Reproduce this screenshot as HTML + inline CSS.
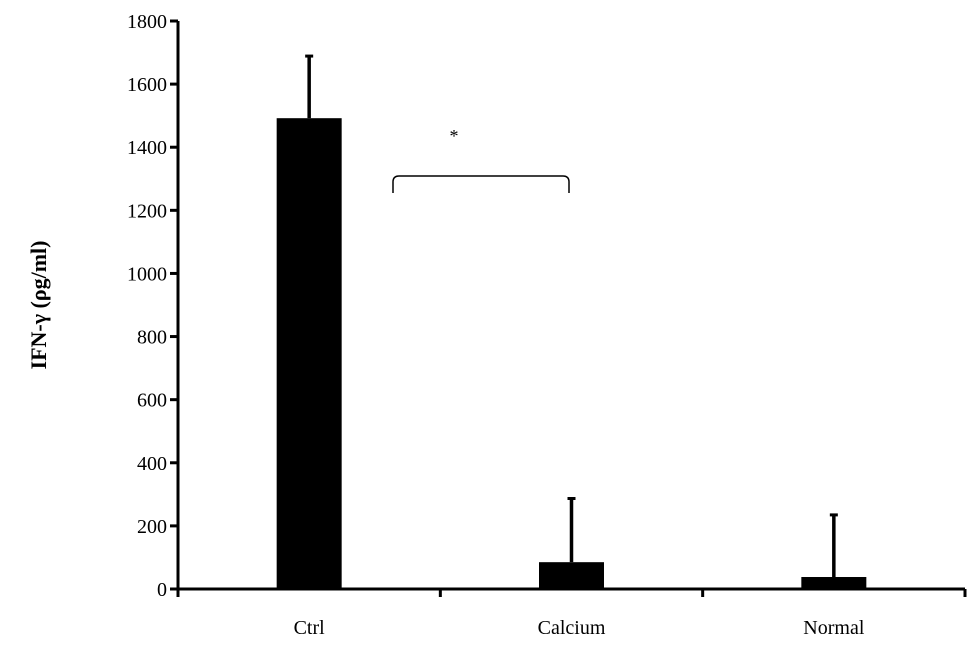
<!DOCTYPE html>
<html><head><meta charset="utf-8"><style>
html,body{margin:0;padding:0;background:#fff;}
svg{display:block;font-family:"Liberation Serif",serif;}
</style></head><body>
<svg id="chart" width="980" height="653" viewBox="0 0 980 653" xmlns="http://www.w3.org/2000/svg">
<g id="axes"></g>
<g id="bars"></g>
<path d="M393,193 L393,182 Q393,176 399,176 L563,176 Q569,176 569,182 L569,193" fill="none" stroke="#000" stroke-width="1.5"/>
<text x="454" y="142" font-size="18" text-anchor="middle">*</text>
<text transform="translate(46,305) rotate(-90)" font-size="22" font-weight="bold" text-anchor="middle">IFN-γ (ρg/ml)</text>
</svg>
<script>
const categories = ["Ctrl", "Calcium", "Normal"];
const values = [1492, 85, 38];
const errors = [200, 205, 200];
const yTicks = [0, 200, 400, 600, 800, 1000, 1200, 1400, 1600, 1800];

const NS = "http://www.w3.org/2000/svg";
const x0 = 178, x1 = 965, y0 = 589, yTop = 21, yMax = 1800;
const band = (x1 - x0) / categories.length;
const yS = v => y0 - v / yMax * (y0 - yTop);
const xC = i => x0 + band * (i + 0.5);
function mk(tag, attrs, parent){const e=document.createElementNS(NS,tag);for(const k in attrs)e.setAttribute(k,attrs[k]);parent.appendChild(e);return e;}
const axes = document.getElementById('axes'), bars = document.getElementById('bars');

let l = mk('line',{x1:x0,y1:yTop,x2:x0,y2:y0+1,stroke:'#000','stroke-width':3},axes);


l = mk('line',{x1:x0-8,y1:y0,x2:x1,y2:y0,stroke:'#000','stroke-width':3},axes);



yTicks.forEach(v=>{
  const y = yS(v);
  const t = mk('line',{x1:x0-8,y1:y,x2:x0,y2:y,stroke:'#000','stroke-width':3},axes);
  
  
  const tx = mk('text',{x:167,y:y+7,'font-size':20,'text-anchor':'end'},axes);
  tx.textContent = v;
  
  
});
for(let i=0;i<=categories.length;i++){
  const x = x0 + band*i;
  const t = mk('line',{x1:x,y1:y0,x2:x,y2:y0+8,stroke:'#000','stroke-width':3},axes);
  
  
}
categories.forEach((c,i)=>{
  const tx = mk('text',{x:xC(i),y:634,'font-size':20,'text-anchor':'middle'},axes);
  tx.textContent = c;
  
  
  const w = 65, cx = xC(i);
  const b = mk('rect',{x:cx-w/2,y:yS(values[i]),width:w,height:y0-yS(values[i]),fill:'#000'},bars);
  
  
  const yt = yS(values[i]+errors[i]);
  const e = mk('line',{x1:cx,y1:yS(values[i]),x2:cx,y2:yt,stroke:'#000','stroke-width':3.5},bars);
  
  
  const cap = mk('line',{x1:cx-4,y1:yt+1,x2:cx+4,y2:yt+1,stroke:'#000','stroke-width':3},bars);
  
  
});
</script>
</body></html>
